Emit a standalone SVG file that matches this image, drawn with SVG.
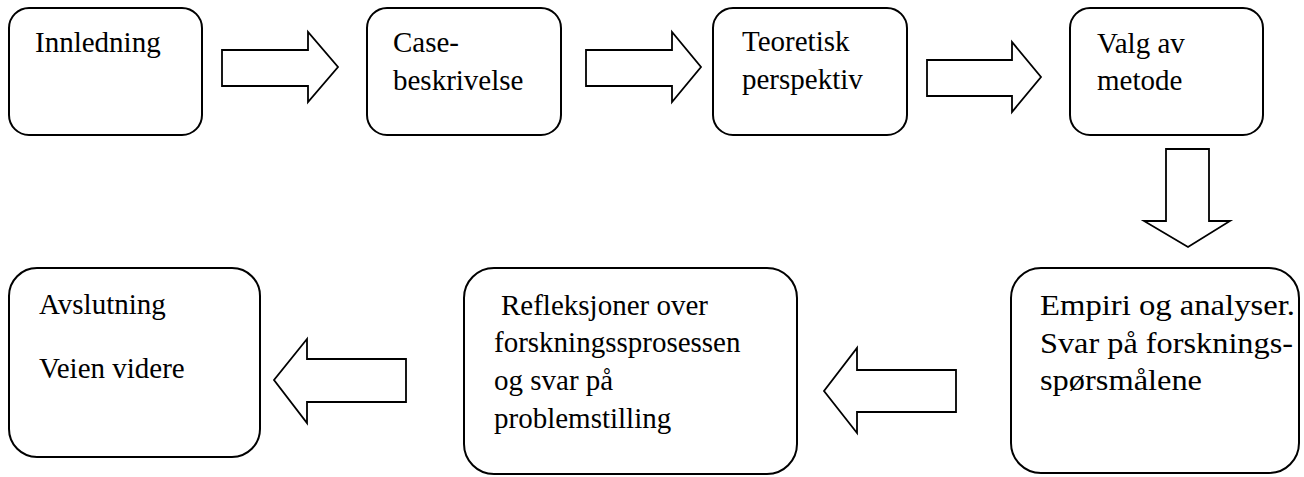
<svg xmlns="http://www.w3.org/2000/svg" width="1304" height="477" viewBox="0 0 1304 477">
<style>
.box{fill:#fff;stroke:#000;stroke-width:2}
.arr{fill:#fff;stroke:#000;stroke-width:1.8;stroke-linejoin:miter}
text{font-family:"Liberation Serif","Times New Roman",serif;font-size:29px;fill:#000}
</style>
<rect width="1304" height="477" fill="#fff"/>
<g id="connectors">
<path class="arr" d="M222,50 H308 V32 L338,67 L308,102 V86 H222 Z"/>
<path class="arr" d="M586,50 H672 V32 L701,67 L672,102 V86 H586 Z"/>
<path class="arr" d="M927,60 H1012 V42 L1041,77 L1012,112 V96 H927 Z"/>
<path class="arr" d="M1166,149 H1209 V221 H1230 L1188,247 L1144,221 H1166 Z"/>
<path class="arr" d="M956,370 H857 V348 L824,391 L857,433 V412 H956 Z"/>
<path class="arr" d="M406,359 H307 V339 L274,380 L307,423 V402 H406 Z"/>
</g>
<g id="innledning">
<rect class="box" x="9" y="8" width="193" height="127" rx="20"/>
<text x="35" y="52">Innledning</text>
</g>
<g id="case">
<rect class="box" x="367" y="8" width="194" height="127" rx="20"/>
<text x="393" y="52">Case-</text>
<text x="393" y="90">beskrivelse</text>
</g>
<g id="teoretisk">
<rect class="box" x="713" y="8" width="194" height="127" rx="20"/>
<text x="742" y="51">Teoretisk</text>
<text x="742" y="89">perspektiv</text>
</g>
<g id="metode">
<rect class="box" x="1070" y="8" width="193" height="127" rx="20"/>
<text x="1097" y="53">Valg av</text>
<text x="1097" y="90">metode</text>
</g>
<g id="empiri">
<rect class="box" x="1011" y="268" width="288" height="205" rx="30"/>
<text x="1040" y="315" textLength="255" lengthAdjust="spacingAndGlyphs">Empiri og analyser.</text>
<text x="1040" y="353" textLength="253" lengthAdjust="spacingAndGlyphs">Svar på forsknings-</text>
<text x="1040" y="390" textLength="162" lengthAdjust="spacingAndGlyphs">spørsmålene</text>
</g>
<g id="refleksjoner">
<rect class="box" x="464" y="268" width="333" height="206" rx="30"/>
<text x="501" y="315">Refleksjoner over</text>
<text x="494" y="352">forskningssprosessen</text>
<text x="494" y="390">og svar på</text>
<text x="494" y="428">problemstilling</text>
</g>
<g id="avslutning">
<rect class="box" x="9" y="268" width="251" height="189" rx="28"/>
<text x="39" y="314">Avslutning</text>
<text x="39" y="378">Veien videre</text>
</g>
</svg>
